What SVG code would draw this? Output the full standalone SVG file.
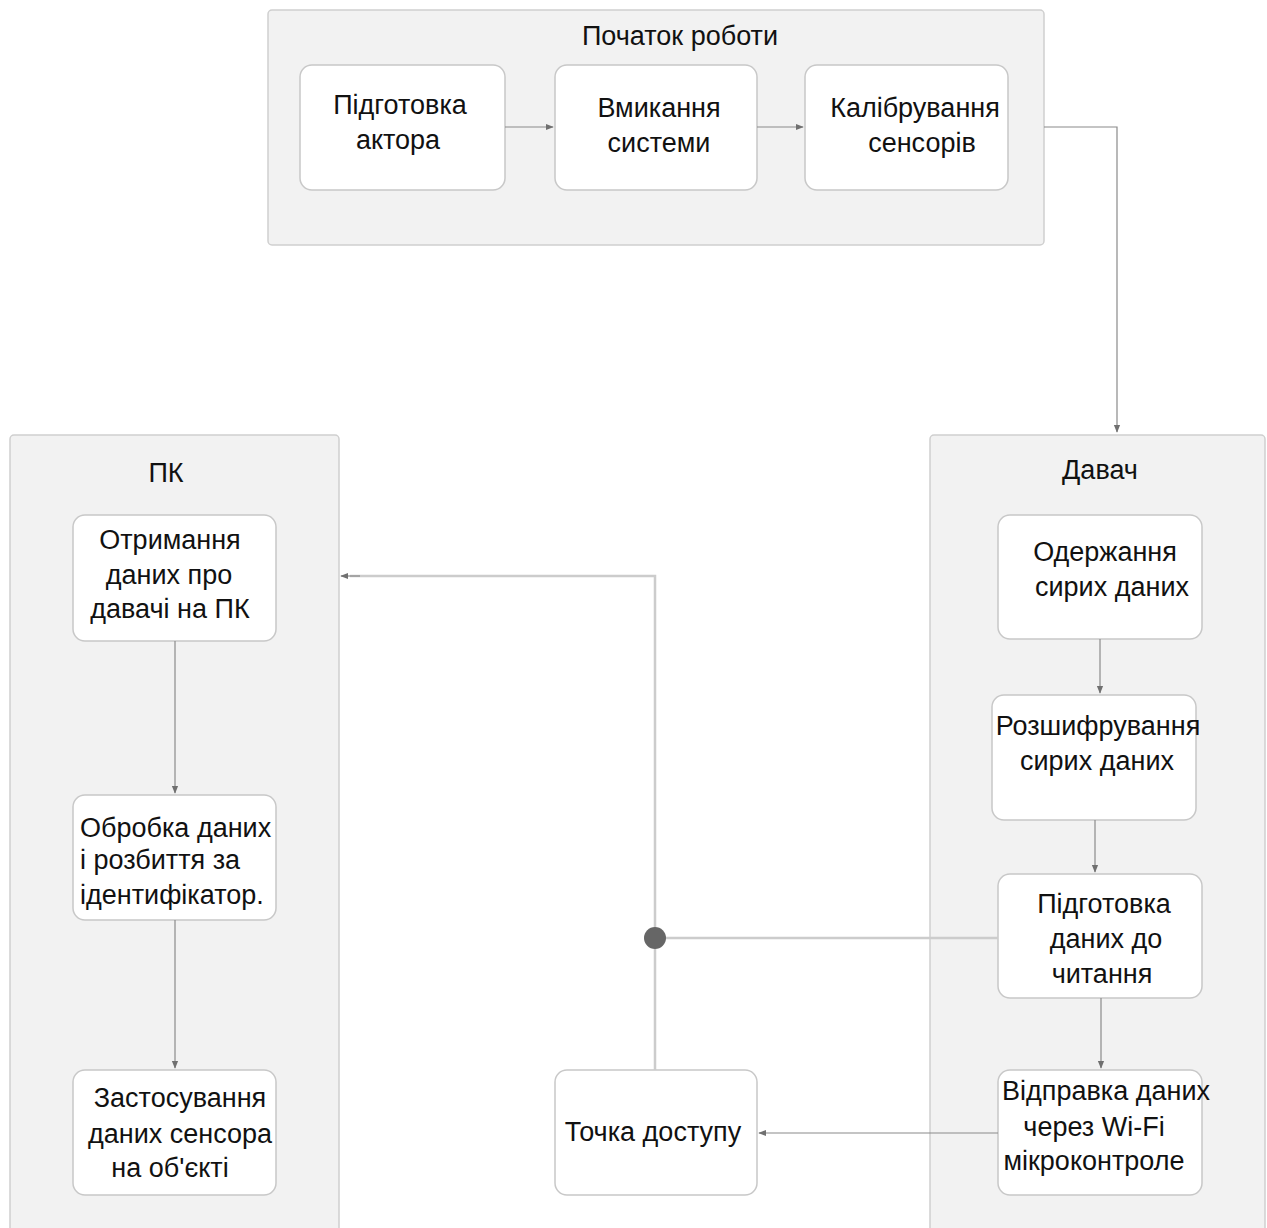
<svg xmlns="http://www.w3.org/2000/svg" width="1267" height="1228" viewBox="0 0 1267 1228">
<style>
.cont{fill:#f2f2f2;stroke:#cfcfcf;stroke-width:1.5}
.node{fill:#ffffff;stroke:#c8c8c8;stroke-width:1.5}
text{font-family:"Liberation Sans",Arial,sans-serif;font-size:27px;fill:#111111;text-anchor:middle}
.l{text-anchor:start}
.arr{fill:none;stroke:#8a8a8a;stroke-width:1.2}
.lt{fill:none;stroke:#cccccc;stroke-width:2.5}
</style>
<defs>
<marker id="ah" viewBox="0 0 10 10" refX="9" refY="5" markerWidth="8" markerHeight="8" markerUnits="userSpaceOnUse" orient="auto"><path d="M0,1 L10,5 L0,9 z" fill="#707070"/></marker>
</defs>
<rect width="1267" height="1228" fill="#ffffff"/>
<g id="start">
<rect class="cont" x="268" y="10" width="776" height="235" rx="4"/>
<text x="680" y="45">Початок роботи</text>
</g>
<g id="pc">
<rect class="cont" x="10" y="435" width="329" height="810" rx="4"/>
<text x="166" y="482">ПК</text>
</g>
<g id="sensor">
<rect class="cont" x="930" y="435" width="335" height="810" rx="4"/>
<text x="1100" y="479">Давач</text>
</g>
<g id="n1"><rect class="node" x="300" y="65" width="205" height="125" rx="12"/><text x="400" y="114">Підготовка</text><text x="398" y="149">актора</text></g>
<g id="n2"><rect class="node" x="555" y="65" width="202" height="125" rx="12"/><text x="659" y="117">Вмикання</text><text x="659" y="152">системи</text></g>
<g id="n3"><rect class="node" x="805" y="65" width="203" height="125" rx="12"/><text x="915" y="117">Калібрування</text><text x="922" y="152">сенсорів</text></g>
<g id="n4"><rect class="node" x="73" y="515" width="203" height="126" rx="12"/><text x="170" y="549">Отримання</text><text x="169" y="584">даних про</text><text x="170" y="618">давачі на ПК</text></g>
<g id="n5"><rect class="node" x="73" y="795" width="203" height="125" rx="12"/><text class="l" x="80" y="837">Обробка даних</text><text class="l" x="80" y="869">і розбиття за</text><text class="l" x="80" y="904">ідентифікатор.</text></g>
<g id="n6"><rect class="node" x="73" y="1070" width="203" height="125" rx="12"/><text x="180" y="1107">Застосування</text><text x="180" y="1143">даних сенсора</text><text x="170" y="1177">на об'єкті</text></g>
<g id="n7"><rect class="node" x="998" y="515" width="204" height="124" rx="12"/><text x="1105" y="561">Одержання</text><text x="1112" y="596">сирих даних</text></g>
<g id="n8"><rect class="node" x="992" y="695" width="204" height="125" rx="12"/><text x="1098" y="735">Розшифрування</text><text x="1097" y="770">сирих даних</text></g>
<g id="n9"><rect class="node" x="998" y="874" width="204" height="124" rx="12"/><text x="1104" y="913">Підготовка</text><text x="1106" y="948">даних до</text><text x="1102" y="983">читання</text></g>
<g id="n10"><rect class="node" x="998" y="1070" width="204" height="125" rx="12"/><text x="1106" y="1100">Відправка даних</text><text x="1094" y="1136">через Wi-Fi</text><text x="1094" y="1170">мікроконтроле</text></g>
<g id="n11"><rect class="node" x="555" y="1070" width="202" height="125" rx="12"/><text x="653" y="1141">Точка доступу</text></g>
<g id="connectors">
<path class="arr" d="M505,127 L553,127" marker-end="url(#ah)"/>
<path class="arr" d="M757,127 L803,127" marker-end="url(#ah)"/>
<path class="arr" d="M1044,127 L1117,127 L1117,432" marker-end="url(#ah)"/>
<path class="arr" d="M175,641 L175,793" marker-end="url(#ah)"/>
<path class="arr" d="M175,920 L175,1068" marker-end="url(#ah)"/>
<path class="arr" d="M1100,639 L1100,693" marker-end="url(#ah)"/>
<path class="arr" d="M1095,820 L1095,872" marker-end="url(#ah)"/>
<path class="arr" d="M1101,998 L1101,1068" marker-end="url(#ah)"/>
<path class="arr" d="M998,1133 L759,1133" marker-end="url(#ah)"/>
<path class="lt" d="M998,938 L655,938"/>
<path class="lt" d="M655,1070 L655,576 L350,576"/>
<path class="arr" d="M360,576 L341,576" marker-end="url(#ah)"/>
<circle cx="655" cy="938" r="11" fill="#666666"/>
</g>
</svg>
